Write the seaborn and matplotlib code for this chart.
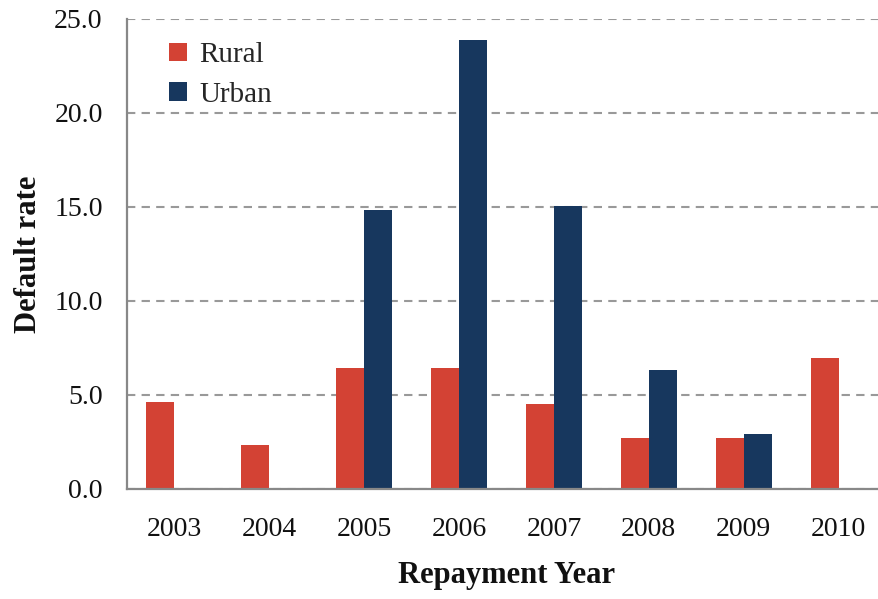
import matplotlib
matplotlib.use("Agg")
import matplotlib.pyplot as plt
import seaborn as sns
import pandas as pd
import numpy as np

years = ["2003", "2004", "2005", "2006", "2007", "2008", "2009", "2010"]
rural = [4.62, 2.36, 6.43, 6.43, 4.50, 2.69, 2.69, 6.97]
urban = [np.nan, np.nan, 14.83, 23.90, 15.04, 6.33, 2.90, np.nan]
series = ["Rural", "Urban"]
colors = ["#D34234", "#17375E"]
yticks = [0, 5, 10, 15, 20, 25]

df = pd.DataFrame({
    "year": years * 2,
    "value": rural + urban,
    "series": [series[0]] * len(years) + [series[1]] * len(years),
})

sns.set_style("white")
plt.rcParams["font.family"] = ["Liberation Serif", "DejaVu Serif"]

fig = plt.figure(figsize=(8.79, 5.99), dpi=100)
W, H = 879, 599
ax = fig.add_axes([127 / W, 1 - 489 / H, 759 / W, 470 / H])

sns.barplot(data=df, x="year", y="value", hue="series", palette=colors,
            width=0.59, gap=0, ax=ax, saturation=1, legend=True, linewidth=0)

ax.set_ylim(0, 25)
ax.set_xlim(-0.5, 7.5)
ax.set_yticks(yticks)
ax.set_yticklabels([f"{v:.1f}" for v in yticks])
ax.yaxis.grid(True, linestyle=(0, (4, 3)), color="#999999", linewidth=1.5)
ax.set_axisbelow(True)

for s in ["top", "right"]:
    ax.spines[s].set_visible(False)
for s in ["left", "bottom"]:
    ax.spines[s].set_color("#888888")
    ax.spines[s].set_linewidth(1.6)

ax.set_xticks(np.arange(len(years)))
ax.set_xticklabels(years)
ax.set_xticks(np.arange(-0.5, len(years), 1.0), minor=True)
ax.tick_params(axis="x", which="major", length=0, pad=20, labelsize=20, labelcolor="#111111")
ax.tick_params(axis="x", which="minor", length=8, width=1.6, color="#888888", direction="out")
ax.tick_params(axis="y", which="major", length=11, width=1.6, color="#888888",
               direction="inout", pad=12, labelsize=20, labelcolor="#111111")

ax.set_xlabel("Repayment Year", fontsize=22, fontweight="bold", labelpad=14, color="#111111")
ax.set_ylabel("Default rate", fontsize=22, fontweight="bold", labelpad=8, color="#111111")

leg = ax.legend(loc="upper left", bbox_to_anchor=(0.04, 0.975), frameon=False,
                fontsize=21, handlelength=0.6, handleheight=0.6, handletextpad=0.45,
                labelspacing=0.45, borderaxespad=0)

fig.savefig("out.png", dpi=100)
